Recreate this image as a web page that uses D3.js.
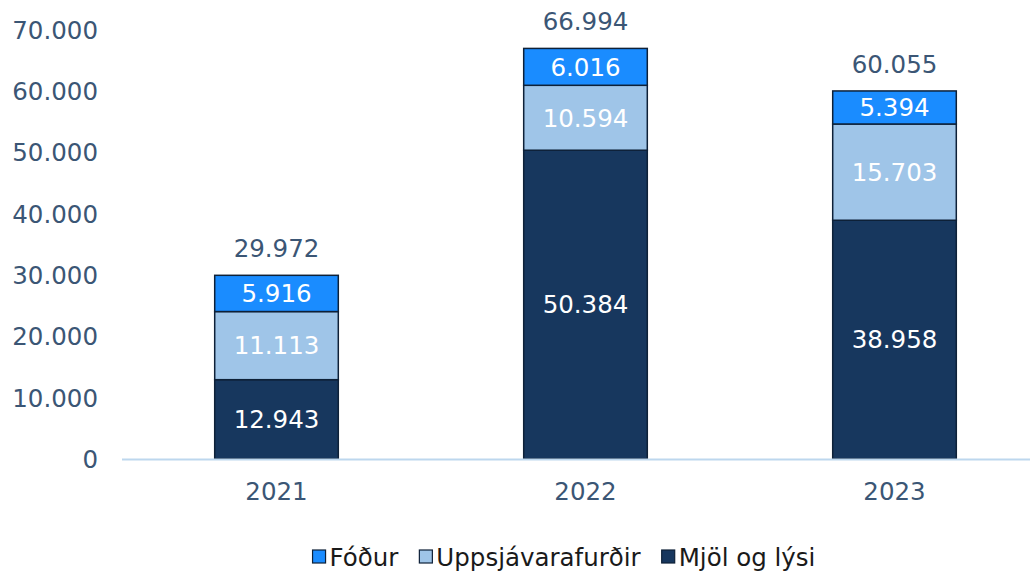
<!DOCTYPE html>
<html>
<head>
<meta charset="utf-8">
<script src="https://cdn.jsdelivr.net/npm/d3@7"></script>
<style>
  body { margin: 0; background: #fff; }
  text { font-family: Verdana, "DejaVu Sans", sans-serif; }
</style>
</head>
<body>
<div id="chart"></div>
<script>
// data
const years = ["2021", "2022", "2023"];
const series = ["Mjöl og lýsi", "Uppsjávarafurðir", "Fóður"];
const mjol = [12943, 50384, 38958];
const uppsjavar = [11113, 10594, 15703];
const fodur = [5916, 6016, 5394];
const totals = [29972, 66994, 60055];
const yTicks = [0, 10000, 20000, 30000, 40000, 50000, 60000, 70000];

const colors = {"Mjöl og lýsi": "#17375e", "Uppsjávarafurðir": "#9fc5e8", "Fóður": "#1a8cff"};
const textColor = "#3b5675";
const fontSize = 24.5;

const width = 1030, height = 571;

const svg = d3.select("#chart").append("svg")
  .attr("width", width)
  .attr("height", height);

// icelandic style number format: dot as thousands separator
const fmt = v => d3.format(",")(v).replace(/,/g, ".");

const rows = years.map((y, i) => ({
  year: y,
  "Mjöl og lýsi": mjol[i],
  "Uppsjávarafurðir": uppsjavar[i],
  "Fóður": fodur[i]
}));

const stacked = d3.stack().keys(series)(rows);

const x = d3.scaleBand()
  .domain(years)
  .range([122, 1049])
  .paddingInner(0.6)
  .paddingOuter(0.3);

const y = d3.scaleLinear()
  .domain([0, 70000])
  .range([459, 30]);

// y axis labels (no line, no ticks)
svg.append("g")
  .selectAll("text")
  .data(yTicks)
  .join("text")
  .attr("x", 98)
  .attr("y", d => y(d))
  .attr("dy", "0.36em")
  .attr("text-anchor", "end")
  .attr("font-size", fontSize)
  .attr("fill", textColor)
  .text(d => fmt(d));

// bars
const layer = svg.append("g")
  .selectAll("g")
  .data(stacked)
  .join("g")
  .attr("fill", d => colors[d.key]);

layer.selectAll("rect")
  .data(d => d)
  .join("rect")
  .attr("x", d => x(d.data.year))
  .attr("y", d => y(d[1]))
  .attr("width", x.bandwidth())
  .attr("height", d => y(d[0]) - y(d[1]))
  .attr("stroke", "#0e2138")
  .attr("stroke-width", 1.5);

// value labels inside segments
layer.selectAll("text")
  .data(d => d)
  .join("text")
  .attr("x", d => x(d.data.year) + x.bandwidth() / 2)
  .attr("y", d => (y(d[0]) + y(d[1])) / 2)
  .attr("dy", "0.36em")
  .attr("text-anchor", "middle")
  .attr("font-size", fontSize)
  .attr("fill", "#fff")
  .text(d => fmt(d[1] - d[0]));

// totals above bars
svg.append("g")
  .selectAll("text")
  .data(totals)
  .join("text")
  .attr("x", (d, i) => x(years[i]) + x.bandwidth() / 2)
  .attr("y", d => y(d) - 27)
  .attr("dy", "0.36em")
  .attr("text-anchor", "middle")
  .attr("font-size", fontSize)
  .attr("fill", textColor)
  .text(d => fmt(d));

// x axis line
svg.append("line")
  .attr("x1", 122).attr("x2", 1030)
  .attr("y1", 459.5).attr("y2", 459.5)
  .attr("stroke", "#bdd7ee")
  .attr("stroke-width", 2);

// x labels
svg.append("g")
  .selectAll("text")
  .data(years)
  .join("text")
  .attr("x", d => x(d) + x.bandwidth() / 2)
  .attr("y", 491)
  .attr("dy", "0.36em")
  .attr("text-anchor", "middle")
  .attr("font-size", fontSize)
  .attr("fill", textColor)
  .text(d => d);

// legend, centred under the bars
const legendOrder = ["Fóður", "Uppsjávarafurðir", "Mjöl og lýsi"];
const legend = svg.append("g");
let lx = 0;
legendOrder.forEach(k => {
  const g = legend.append("g").attr("transform", `translate(${lx},0)`);
  g.append("rect")
    .attr("x", 0).attr("y", -7)
    .attr("width", 13).attr("height", 13)
    .attr("fill", colors[k])
    .attr("stroke", "#0e2138")
    .attr("stroke-width", 1.2);
  const t = g.append("text")
    .attr("x", 17)
    .attr("y", 0)
    .attr("dy", "0.36em")
    .attr("font-size", fontSize)
    .attr("fill", "#1a1a1a")
    .text(k);
  lx += 17 + t.node().getComputedTextLength() + 21;
});
lx -= 21;
legend.attr("transform", `translate(${564 - lx / 2},557)`);
</script>
</body>
</html>
